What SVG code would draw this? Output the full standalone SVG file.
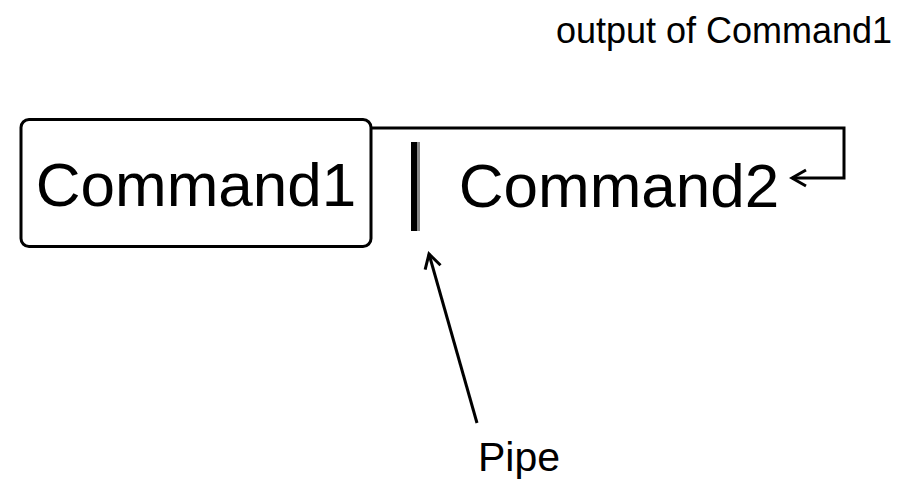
<svg xmlns="http://www.w3.org/2000/svg" width="909" height="486" viewBox="0 0 909 486">
<style>
text{font-family:"Liberation Sans",Arial,sans-serif;fill:#000}
.big{font-size:62px}
.conn{fill:none;stroke:#000;stroke-width:3}
</style>
<defs>
<marker id="open" viewBox="0 0 20 20" refX="17" refY="10" markerWidth="20" markerHeight="20" markerUnits="userSpaceOnUse" orient="auto">
<path d="M3,2 L17,10 L3,18" fill="none" stroke="#000" stroke-width="3"/>
</marker>
</defs>
<rect width="909" height="486" fill="#fff"/>
<g id="command1">
<rect x="21" y="119.5" width="350" height="127" rx="8" fill="#fff" stroke="#000" stroke-width="3"/>
<text class="big" x="196" y="206" text-anchor="middle">Command1</text>
</g>
<g id="pipe-bar">
<rect x="411" y="142" width="6" height="89" fill="#000"/>
<rect x="417" y="142" width="3" height="89" fill="#888"/>
</g>
<g id="command2">
<text class="big" x="619" y="207" text-anchor="middle">Command2</text>
</g>
<g id="output-label">
<text x="724" y="43" font-size="36" text-anchor="middle">output of Command1</text>
</g>
<g id="pipe-label">
<text x="519" y="471" font-size="41" text-anchor="middle">Pipe</text>
</g>
<g id="connectors">
<path class="conn" d="M371,128 H844 V178 H792" marker-end="url(#open)"/>
<path class="conn" d="M477,423 L429,254" marker-end="url(#open)"/>
</g>
</svg>
